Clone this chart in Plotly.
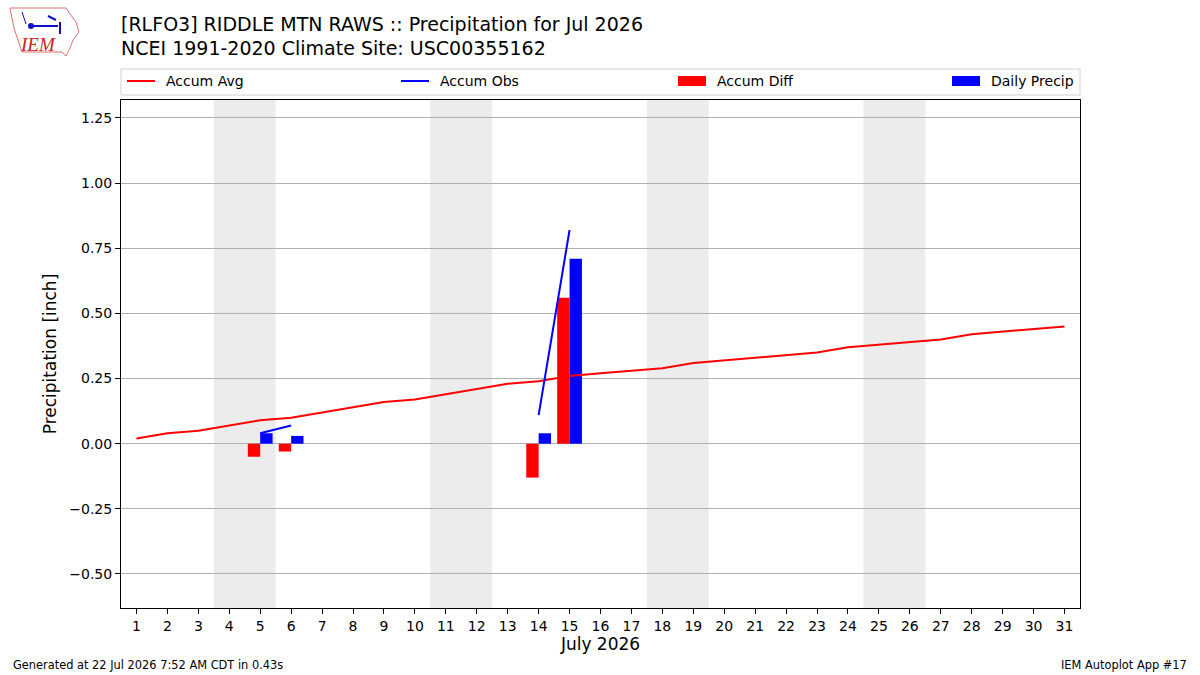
import plotly.graph_objects as go

# ---- data ----
days = list(range(1, 32))
accum_avg = [0.02, 0.04, 0.05, 0.07, 0.09, 0.10, 0.12, 0.14, 0.16, 0.17,
             0.19, 0.21, 0.23, 0.24, 0.26, 0.27, 0.28, 0.29, 0.31, 0.32,
             0.33, 0.34, 0.35, 0.37, 0.38, 0.39, 0.40, 0.42, 0.43, 0.44, 0.45]
obs_days = [5, 6, None, 14, 15]
accum_obs = [0.04, 0.07, None, 0.11, 0.82]
bar_days = [5, 6, 14, 15]
accum_diff = [-0.05, -0.03, -0.13, 0.56]
daily_precip = [0.04, 0.03, 0.04, 0.71]
weekends = [(4, 5), (11, 12), (18, 19), (25, 26)]
ytick_vals = [-0.5, -0.25, 0.0, 0.25, 0.5, 0.75, 1.0, 1.25]
ytick_text = ["\u22120.50", "\u22120.25", "0.00", "0.25", "0.50", "0.75", "1.00", "1.25"]
title_lines = ["[RLFO3] RIDDLE MTN RAWS :: Precipitation for Jul 2026",
               "NCEI 1991-2020 Climate Site: USC00355162"]
legend_labels = ["Accum Avg", "Accum Obs", "Accum Diff", "Daily Precip"]
legend_colors = ["red", "blue", "red", "blue"]
legend_kinds = ["line", "line", "rect", "rect"]

W, H = 1200, 675
L, R, T, B = 121, 1080, 100, 608
FONT = "DejaVu Sans"


def px(x):
    return (x - L) / (R - L)


def py(y):
    return (B - y) / (B - T)


fig = go.Figure()
fig.add_trace(go.Scatter(x=days, y=accum_avg, mode="lines",
                         line=dict(color="red", width=2), name="Accum Avg"))
fig.add_trace(go.Scatter(x=obs_days, y=accum_obs, mode="lines",
                         line=dict(color="blue", width=2), name="Accum Obs",
                         connectgaps=False))
fig.add_trace(go.Bar(x=bar_days, y=accum_diff, offset=-0.4, width=0.4,
                     marker=dict(color="red", line=dict(width=0)), name="Accum Diff"))
fig.add_trace(go.Bar(x=bar_days, y=daily_precip, offset=0.0, width=0.4,
                     marker=dict(color="blue", line=dict(width=0)), name="Daily Precip"))

shapes = []
for a, b in weekends:
    shapes.append(dict(type="rect", xref="x", yref="paper", x0=a - 0.5, x1=b + 0.5,
                       y0=0, y1=1, fillcolor="#ececec", line=dict(width=0), layer="below"))

annotations = []
# legend box
shapes.append(dict(type="rect", xref="paper", yref="paper", x0=px(121), x1=px(1080),
                   y0=py(95), y1=py(69), line=dict(color="#d0d0d0", width=1),
                   fillcolor="white"))
leg_x = [127, 401, 678, 952]
for i, lab in enumerate(legend_labels):
    x0 = leg_x[i]
    if legend_kinds[i] == "line":
        shapes.append(dict(type="line", xref="paper", yref="paper", x0=px(x0), x1=px(x0 + 28),
                           y0=py(81), y1=py(81), line=dict(color=legend_colors[i], width=2)))
    else:
        shapes.append(dict(type="rect", xref="paper", yref="paper", x0=px(x0), x1=px(x0 + 28),
                           y0=py(86), y1=py(76), fillcolor=legend_colors[i], line=dict(width=0)))
    annotations.append(dict(x=px(x0 + 37), y=py(81), xref="paper", yref="paper",
                            text=lab, showarrow=False, xanchor="left", yanchor="middle",
                            font=dict(family=FONT, size=14, color="black")))

# titles
annotations.append(dict(x=px(119), y=py(24), xref="paper", yref="paper", text=title_lines[0],
                        showarrow=False, xanchor="left", yanchor="middle",
                        font=dict(family=FONT, size=19, color="black")))
annotations.append(dict(x=px(119), y=py(48), xref="paper", yref="paper", text=title_lines[1],
                        showarrow=False, xanchor="left", yanchor="middle",
                        font=dict(family=FONT, size=19, color="black")))
# footer
annotations.append(dict(x=px(11), y=py(665), xref="paper", yref="paper",
                        text="Generated at 22 Jul 2026 7:52 AM CDT in 0.43s",
                        showarrow=False, xanchor="left", yanchor="middle",
                        font=dict(family=FONT, size=11.4, color="black")))
annotations.append(dict(x=px(1189), y=py(665), xref="paper", yref="paper",
                        text="IEM Autoplot App #17",
                        showarrow=False, xanchor="right", yanchor="middle",
                        font=dict(family=FONT, size=11.4, color="black")))

# logo (approximate)
outline = [(10, 8), (66, 8), (70, 14), (76, 22), (79, 32), (73, 40), (70, 48),
           (66, 56), (62, 52), (22, 52), (18, 40), (14, 28)]
path = "M " + " L ".join(f"{px(a):.5f},{py(b):.5f}" for a, b in outline) + " Z"
shapes.append(dict(type="path", xref="paper", yref="paper", path=path,
                   line=dict(color="#e07070", width=1)))
shapes.append(dict(type="line", xref="paper", yref="paper", x0=px(31), x1=px(58),
                   y0=py(26), y1=py(26), line=dict(color="#1010c0", width=2)))
shapes.append(dict(type="circle", xref="paper", yref="paper", x0=px(28), x1=px(34),
                   y0=py(29), y1=py(23), fillcolor="#1010c0", line=dict(width=0)))
shapes.append(dict(type="line", xref="paper", yref="paper", x0=px(48), x1=px(56),
                   y0=py(16), y1=py(20), line=dict(color="#1010c0", width=2)))
shapes.append(dict(type="line", xref="paper", yref="paper", x0=px(60), x1=px(60),
                   y0=py(22), y1=py(34), line=dict(color="#1010c0", width=2)))
shapes.append(dict(type="line", xref="paper", yref="paper", x0=px(22), x1=px(26),
                   y0=py(12), y1=py(24), line=dict(color="#1010c0", width=1)))
annotations.append(dict(x=px(38), y=py(45), xref="paper", yref="paper", text="IEM",
                        showarrow=False, xanchor="center", yanchor="middle",
                        font=dict(family="Liberation Serif", size=19, color="#d02020",
                                  style="italic")))

fig.update_layout(
    width=W, height=H,
    margin=dict(l=L, r=W - R, t=T, b=H - B),
    paper_bgcolor="white", plot_bgcolor="white",
    showlegend=False, barmode="overlay",
    shapes=shapes, annotations=annotations,
    font=dict(family=FONT, size=14, color="black"),
)
fig.update_xaxes(range=[0.5, 31.5], tickmode="array", tickvals=days,
                 ticktext=[str(d) for d in days], showgrid=False, zeroline=False,
                 showline=True, mirror=True, linecolor="black", linewidth=1,
                 ticks="outside", ticklen=5, tickcolor="black",
                 tickfont=dict(family=FONT, size=14),
                 title=dict(text="July 2026", font=dict(family=FONT, size=17), standoff=5))
fig.update_yaxes(range=[-0.6305, 1.319], tickmode="array", tickvals=ytick_vals,
                 ticktext=ytick_text, showgrid=True, gridcolor="#b0b0b0", gridwidth=1,
                 zeroline=False, showline=True, mirror=True, linecolor="black",
                 linewidth=1, ticks="outside", ticklen=5, tickcolor="black",
                 tickfont=dict(family=FONT, size=14),
                 title=dict(text="Precipitation [inch]", font=dict(family=FONT, size=17),
                            standoff=8))

fig.write_html("out.html")
